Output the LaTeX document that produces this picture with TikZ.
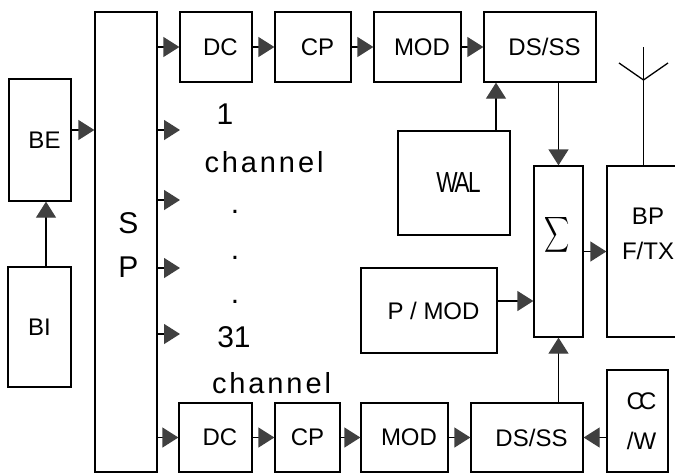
\documentclass[tikz,border=0pt]{standalone}
\usepackage{exscale}
\usepackage{fontspec}
\setmainfont{Liberation Sans}
\usetikzlibrary{arrows.meta}

\begin{document}
\begin{tikzpicture}[x=1pt, y=-1pt,
    bloque/.style={draw=black, line width=1.3pt, inner sep=0pt, font=\fontsize{24}{28}\selectfont},
    corrido/.style={execute at begin node={\hspace*{9pt}}},
    flecha/.style={line width=1.3pt, -{Triangle[length=16pt, width=20pt, color=black!75]}},
    canal/.style={anchor=base, inner sep=0pt, font=\fontsize{29}{34}\selectfont\addfontfeature{LetterSpace=10}},
    numero/.style={inner sep=0pt, font=\fontsize{30}{34}\selectfont}]
  \clip (0,0) rectangle (675,474);

  % Entrada
  \node[bloque, corrido, minimum width=62pt, minimum height=122pt] (be) at (40,140) {BE};
  \node[bloque, minimum width=63pt, minimum height=120pt] (bi) at (39.5,327) {BI};
  \node[bloque, minimum width=62pt, minimum height=460pt] (sp) at (126,242) {};
  \node[numero, anchor=base] at (128.5,233) {S};
  \node[numero, anchor=base] at (128.5,277) {P};

  % Canal superior
  \node[bloque, corrido, minimum width=72pt, minimum height=70pt] (dc1) at (216,47) {DC};
  \node[bloque, corrido, minimum width=76pt, minimum height=70pt] (cp1) at (313,47) {CP};
  \node[bloque, corrido, minimum width=87pt, minimum height=70pt] (mod1) at (417.5,47) {MOD};
  \node[bloque, corrido, minimum width=112pt, minimum height=70pt] (ds1) at (540,47) {DS/SS};
  \node[bloque, corrido, minimum width=112pt, minimum height=104pt, font=\fontsize{29}{33}\selectfont] (wal) at (454,183) {\scalebox{0.78}[1]{W\kern-4pt A\kern-2pt L}};

  % Canal inferior
  \node[bloque, corrido, minimum width=73pt, minimum height=69pt] (dc2) at (215.5,437.5) {DC};
  \node[bloque, minimum width=65pt, minimum height=69pt] (cp2) at (307.5,437.5) {CP};
  \node[bloque, corrido, minimum width=87pt, minimum height=69pt] (mod2) at (404.5,437.5) {MOD};
  \node[bloque, corrido, minimum width=112pt, minimum height=69pt] (ds2) at (527,437.5) {DS/SS};
  \node[bloque, minimum width=61pt, minimum height=102pt, align=center, font=\fontsize{24}{40}\selectfont] (ccw) at (637.5,421) {\kern8pt C\kern-5pt C\\\kern8pt/W};

  % Suma y salida
  \node[bloque, corrido, minimum width=136pt, minimum height=85pt] (pmod) at (429,310.5) {P / MOD};
  \node[bloque, minimum width=49pt, minimum height=171pt] (sum) at (558.5,251.5) {};
  \node[inner sep=0pt, font=\fontsize{26}{30}\selectfont] at (557.5,235) {\scalebox{0.7}[1]{$\displaystyle\sum$}};
  \node[bloque, minimum width=73pt, minimum height=171pt] (bp) at (643.5,251.5) {};
  \node[inner sep=0pt, align=center, font=\fontsize{24}{35.5}\selectfont] at (648,234) {BP\\F/TX};

  % Antena
  \coordinate (mastil) at (643.5,47);
  \coordinate (union) at (643.5,80);
  \draw[line width=1.3pt] (bp.north) -- (mastil);
  \draw[line width=1.3pt] (619,63) -- (union) -- (668,63);

  % Canales intermedios
  \coordinate (c1) at (180,130);
  \coordinate (c2) at (180,200);
  \coordinate (c3) at (180,268);
  \coordinate (c4) at (180,334);
  \node[numero] at (225,114) {1};
  \node[canal] at (264,172) {channel};
  \foreach \y in {213.2,259.8,303.8}
    \node[numero, anchor=base] at (235,\y) {.};
  \node[numero] at (234,337.5) {31};
  \node[canal] at (271.5,393) {channel};

  % Flechas
  \draw[flecha] ([xshift=6.5pt]bi.north) -- ([xshift=6.5pt]bi.north |- be.south);
  \draw[flecha] ([yshift=10pt]be.east) -- ([yshift=10pt]be.east -| sp.west);
  \draw[flecha] (sp.east |- dc1) -- (dc1);
  \foreach \c in {c1,c2,c3,c4}
    \draw[flecha] (sp.east |- \c) -- (\c);
  \draw[flecha] (sp.east |- dc2) -- (dc2);

  \draw[flecha] (dc1) -- (cp1);
  \draw[flecha] (cp1) -- (mod1);
  \draw[flecha] (mod1) -- (ds1);
  \draw[flecha] ([xshift=42pt]wal.north) -- ([xshift=42pt]wal.north |- ds1.south);
  \draw[flecha] (ds1.south -| sum.north) -- (sum.north);

  \draw[flecha] (dc2) -- (cp2);
  \draw[flecha] (cp2) -- (mod2);
  \draw[flecha] (mod2) -- (ds2);
  \draw[flecha] (ccw.west |- ds2.east) -- (ds2.east);
  \draw[flecha] (ds2.north -| sum.south) -- (sum.south);

  \draw[flecha] ([yshift=9.5pt]pmod.east) -- ([yshift=9.5pt]pmod.east -| sum.west);
  \draw[flecha] (sum) -- (bp);
\end{tikzpicture}
\end{document}
